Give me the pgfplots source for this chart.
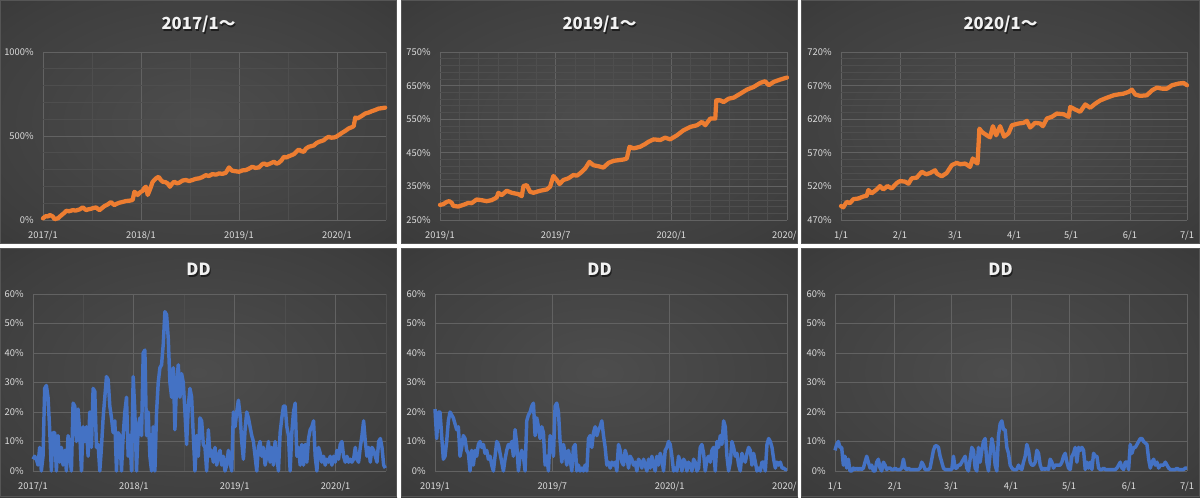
\documentclass[border=0pt]{standalone}
\usepackage{fontspec}
\setmainfont{Noto Sans CJK JP}
\usepackage{pgfplots}
\usepackage{pgfplotstable}
\pgfplotsset{compat=1.18}

\definecolor{orng}{HTML}{ED7D31}
\definecolor{blu}{HTML}{4472C4}
\definecolor{tickc}{HTML}{DDDDDD}
\definecolor{gmaj}{HTML}{626262}
\definecolor{gmin}{HTML}{4E4E4E}
\definecolor{bgA}{HTML}{4D4D4D}
\definecolor{bgB}{HTML}{3E3E3E}
\definecolor{bgC}{HTML}{2C2C2C}
\definecolor{bgD}{HTML}{242424}
\definecolor{pbord}{HTML}{555555}
\pgfdeclareradialshading{panelbg}{\pgfpoint{0bp}{0bp}}{color(0bp)=(bgA); color(30bp)=(bgB); color(55bp)=(bgC); color(71bp)=(bgD)}

\pgfplotstableread{
m v
0 10
0.2 18
0.41 24
0.6 20
0.81 30
1.0 26
1.22 20
1.42 4
1.6 8
1.83 10
2.1 22
2.44 36
2.6 42
2.85 55
3.2 52
3.66 59
4.0 56
4.48 63
4.88 75
5.1 66
5.29 59
5.6 64
5.9 67
6.2 72
6.51 75
6.7 66
6.92 59
7.2 70
7.53 83
7.9 92
8.34 107
8.5 98
8.75 89
9.0 96
9.36 103
9.8 108
10.17 113
10.6 115
10.98 119
11.19 168
11.4 160
11.59 149
11.9 165
12.21 174
12.4 190
12.61 198
12.82 149
13.0 170
13.22 198
13.4 225
13.63 238
13.9 250
14.16 257
14.4 240
14.65 228
15.0 225
15.26 218
15.54 198
15.8 215
16.07 228
16.4 218
16.68 222
17.1 235
17.49 238
17.9 232
18.31 238
18.7 245
19.12 248
19.5 255
19.94 267
20.3 262
20.75 273
21.2 270
21.56 277
22.0 275
22.38 281
22.78 313
23.0 300
23.19 293
23.6 290
24.0 287
24.4 295
24.82 297
25.2 305
25.63 317
26.0 310
26.44 313
26.8 330
27.05 337
27.4 328
27.66 333
28.0 340
28.28 347
28.6 335
28.89 341
29.2 355
29.5 376
29.8 372
30.11 380
30.4 385
30.72 392
31.0 405
31.33 420
31.6 410
31.94 406
32.2 425
32.55 436
32.9 440
33.16 444
33.5 458
33.77 465
34.1 470
34.38 475
34.7 488
34.99 495
35.3 490
35.6 491
35.88 495
36.2 505
36.62 519
37.0 530
37.43 545
37.8 552
38.04 558
38.24 610
38.5 605
38.85 614
39.1 622
39.46 634
39.9 640
40.28 648
40.7 655
41.09 663
41.4 665
41.9 669
}\eqA

\pgfplotstableread{
m v
0 295
0.17 297
0.35 304
0.48 306
0.61 301
0.69 292
0.95 290
1.21 295
1.47 301
1.64 300
1.9 311
2.16 309
2.42 306
2.68 309
2.94 317
3.03 331
3.2 324
3.46 337
3.72 331
4.07 327
4.24 321
4.33 351
4.5 354
4.67 334
4.85 331
5.19 337
5.54 341
5.71 349
5.88 381
6.06 369
6.2 357
6.4 369
6.66 374
6.92 384
7.1 382
7.27 389
7.53 403
7.75 423
7.96 413
8.22 410
8.48 406
8.74 420
9.0 426
9.26 428
9.52 430
9.69 433
9.83 468
10.04 463
10.38 468
10.64 476
10.82 483
11.08 490
11.42 488
11.68 495
11.94 490
12.29 502
12.63 517
12.98 527
13.33 532
13.59 542
13.76 532
14.02 552
14.28 552
14.33 606
14.54 606
14.71 601
14.97 611
15.23 614
15.58 626
15.92 638
16.27 646
16.61 658
16.87 663
17.05 651
17.31 661
17.65 668
18 674
}\eqB

\pgfplotstableread{
d v
0 490.8
1.2 488.8
3.0 497
4.7 495
6.5 501
9.1 502
11.8 505
13.5 506
14.4 514.6
16.1 509.6
18.8 515.5
20.5 520.5
22.3 515.5
24.4 520.5
26.7 517
29.3 525
31.1 528
33.7 527
35.5 524
37.2 532
39.8 533
42.5 541.8
44.8 538
46.9 540
49.5 544
50.4 539
53.0 535
55.6 540
58.3 551.7
60.9 555
62.7 553
65.3 554
67.9 549
69.3 561.6
70.6 556.6
71.8 554
72.8 606
74.1 601
76.7 596
78.4 593
79.9 609.6
81.6 596
83.7 609.6
85.8 594
88.1 599
89.9 611
93.4 613.6
96.0 614.6
97.8 617.5
99.5 607.6
102.1 614.6
104.8 613.6
106.2 609.6
108.3 621
110.9 623.5
113.5 628.4
117.1 627.4
119.7 623.5
120.6 638.3
123.2 634.4
125.8 631
128.5 642
131.1 637
133.7 643
136.4 648
139.9 652
143.4 655.6
146.0 657
148.6 658
151.3 660.6
153.0 664
154.8 656.6
157.4 654.7
160.9 655.6
163.6 663
166.2 667
168.8 665.5
171.5 665.5
174.1 670.5
177.6 673
180.2 674
182 670.5
}\eqC

\pgfplotstableread[row sep=\\]{k v\\
0 4\\1 5\\2 4\\3 2\\4 8\\5 0\\6 5\\7 28\\8 29\\9 25\\10 14\\11 0\\12 13\\13 13\\14 0\\15 12\\16 3\\17 8\\18 2\\19 7\\
20 0\\21 12\\22 5\\23 0\\24 23\\25 22\\26 10\\27 21\\28 13\\29 0\\30 15\\31 10\\32 15\\33 5\\34 20\\35 8\\36 28\\37 27\\38 8\\39 9\\
40 0\\41 8\\42 18\\43 25\\44 32\\45 31\\46 22\\47 18\\48 13\\49 17\\50 0\\51 13\\52 12\\53 0\\54 12\\55 20\\56 25\\57 5\\58 12\\59 0\\
60 32\\61 20\\62 0\\63 15\\64 18\\65 12\\66 40\\67 41\\68 12\\69 20\\70 5\\71 0\\72 15\\73 0\\74 20\\75 30\\76 35\\77 36\\78 43\\79 54\\
80 53\\81 45\\82 30\\83 25\\84 35\\85 14\\86 30\\87 36\\88 25\\89 33\\90 30\\91 20\\92 9\\93 22\\94 28\\95 25\\96 12\\97 0\\98 12\\99 5\\
100 18\\101 17\\102 9\\103 8\\104 0\\105 14\\106 5\\107 7\\108 3\\109 8\\110 2\\111 5\\112 7\\113 2\\114 5\\115 0\\116 2\\117 7\\118 3\\119 0\\
120 20\\121 15\\122 20\\123 24\\124 19\\125 10\\126 4\\127 14\\128 20\\129 18\\130 15\\131 12\\132 10\\133 5\\134 0\\135 8\\136 10\\137 5\\138 8\\139 2\\
140 5\\141 10\\142 3\\143 8\\144 2\\145 10\\146 5\\147 0\\148 13\\149 18\\150 22\\151 22\\152 15\\153 12\\154 0\\155 13\\156 20\\157 23\\158 5\\159 8\\
160 2\\161 9\\162 2\\163 9\\164 3\\165 11\\166 14\\167 15\\168 17\\169 5\\170 0\\171 8\\172 6\\173 3\\174 5\\175 2\\176 4\\177 3\\178 5\\179 2\\
180 5\\181 3\\182 7\\183 4\\184 9\\185 10\\186 5\\187 3\\188 5\\189 3\\190 4\\191 3\\192 4\\193 8\\194 4\\195 3\\196 8\\197 12\\198 17\\199 10\\
200 5\\201 8\\202 3\\203 8\\204 7\\205 5\\206 3\\207 10\\208 11\\209 8\\210 2\\211 1\\
}\ddA

\pgfplotstableread[row sep=\\]{k v\\
0 21\\1 11\\2 20\\3 20\\4 12\\5 4\\6 5\\7 10\\8 17\\9 20\\10 19\\11 18\\12 16\\13 14\\14 15\\15 5\\16 8\\17 12\\18 11\\19 7\\
20 6\\21 0\\22 7\\23 2\\24 7\\25 5\\26 9\\27 10\\28 8\\29 9\\30 6\\31 7\\32 4\\33 5\\34 2\\35 0\\36 5\\37 10\\38 9\\39 6\\
40 3\\41 0\\42 4\\43 7\\44 9\\45 8\\46 10\\47 5\\48 14\\49 9\\50 0\\51 5\\52 7\\53 5\\54 0\\55 17\\56 19\\57 20\\58 22\\59 23\\
60 12\\61 18\\62 15\\63 11\\64 15\\65 13\\66 2\\67 5\\68 0\\69 12\\70 10\\71 5\\72 22\\73 23\\74 20\\75 10\\76 3\\77 9\\78 6\\79 2\\
80 7\\81 4\\82 0\\83 8\\84 9\\85 0\\86 2\\87 0\\88 1\\89 0\\90 2\\91 0\\92 11\\93 12\\94 8\\95 13\\96 15\\97 12\\98 14\\99 15\\
100 17\\101 12\\102 8\\103 2\\104 3\\105 1\\106 3\\107 2\\108 3\\109 0\\110 9\\111 7\\112 3\\113 2\\114 7\\115 5\\116 1\\117 5\\118 4\\119 2\\
120 3\\121 0\\122 4\\123 3\\124 1\\125 4\\126 2\\127 0\\128 4\\129 1\\130 5\\131 2\\132 0\\133 5\\134 2\\135 6\\136 4\\137 0\\138 7\\139 8\\
140 10\\141 9\\142 5\\143 0\\144 1\\145 0\\146 5\\147 3\\148 0\\149 4\\150 3\\151 0\\152 3\\153 2\\154 0\\155 4\\156 3\\157 0\\158 1\\159 8\\
160 9\\161 6\\162 0\\163 4\\164 5\\165 3\\166 7\\167 8\\168 0\\169 10\\170 8\\171 12\\172 9\\173 17\\174 15\\175 5\\176 0\\177 3\\178 10\\179 8\\
180 5\\181 6\\182 2\\183 0\\184 6\\185 4\\186 3\\187 6\\188 8\\189 7\\190 2\\191 6\\192 3\\193 0\\194 1\\195 0\\196 3\\197 3\\198 0\\199 9\\
200 11\\201 10\\202 8\\203 4\\204 1\\205 3\\206 2\\207 3\\208 1\\209 1\\210 0.5\\211 0.5\\
}\ddB

\pgfplotstableread[row sep=\\]{k v\\
0 7\\1 9\\2 10\\3 8\\4 8\\5 2\\6 5\\7 1\\8 4\\9 0\\10 0\\11 1\\12 0.5\\13 1\\14 0.5\\15 1\\16 0.5\\17 1\\18 3\\19 5\\
20 3\\21 1\\22 2\\23 0\\24 0\\25 3\\26 4\\27 1\\28 0\\29 3\\30 2\\31 0.5\\32 1\\33 1\\34 0.5\\35 0.5\\36 1\\37 0.5\\38 0.5\\39 0.5\\
40 1\\41 4\\42 1\\43 0.5\\44 1\\45 0.5\\46 0.5\\47 0.5\\48 0.5\\49 0.5\\50 0.5\\51 1\\52 3\\53 2\\54 0.5\\55 0.5\\56 0.5\\57 1\\58 4\\59 7\\
60 8.5\\61 8.5\\62 8\\63 5\\64 3\\65 1\\66 0.5\\67 0.5\\68 0.5\\69 0.5\\70 0.5\\71 5\\72 1\\73 1\\74 2\\75 2\\76 3\\77 4\\78 5\\79 1\\
80 0\\81 4\\82 8\\83 7\\84 1\\85 0\\86 8\\87 3\\88 7\\89 10\\90 11\\91 3\\92 0\\93 6\\94 11\\95 8\\96 2\\97 0\\98 12\\99 16\\
100 17\\101 14\\102 14\\103 8\\104 6\\105 2\\106 1\\107 0.5\\108 0.5\\109 0.5\\110 2\\111 1\\112 0.5\\113 3\\114 5\\115 9\\116 7\\117 3\\118 2\\119 2\\
120 3\\121 7\\122 6\\123 2\\124 0.5\\125 1\\126 0.5\\127 1\\128 0.5\\129 4\\130 3\\131 1\\132 2\\133 2\\134 2\\135 2\\136 3\\137 5\\138 6\\139 3\\
140 1\\141 0.5\\142 5\\143 6\\144 8\\145 3\\146 8\\147 7\\148 8\\149 7\\150 0.5\\151 3\\152 1\\153 3\\154 0.5\\155 6\\156 5\\157 5\\158 1\\159 0.5\\
160 0.5\\161 1\\162 0.5\\163 0.5\\164 0.5\\165 0.5\\166 0.5\\167 0.5\\168 0.5\\169 1\\170 2\\171 3\\172 1\\173 0.5\\174 3\\175 3\\176 0.5\\177 9\\178 6\\179 8\\
180 8\\181 9\\182 10\\183 11\\184 11\\185 10\\186 9.5\\187 9\\188 4\\189 1\\190 3\\191 4\\192 2\\193 3\\194 1\\195 2\\196 2\\197 2\\198 3\\199 2\\
200 1\\201 0.5\\202 0.5\\203 0.5\\204 0.5\\205 1\\206 0.5\\207 0.5\\208 0.5\\209 0.5\\210 1\\211 1\\
}\ddC

\pgfplotsset{
  panel/.style={
    scale only axis, anchor=south west,
    axis line style={draw=none}, tick style={draw=none},
    grid=both,
    major grid style={draw=gmaj, line width=0.6pt},
    minor grid style={draw=gmin, line width=0.45pt},
    ticklabel style={font=\fontsize{7}{8}\selectfont, text=tickc},
    /pgf/number format/assume math mode=true,
    /pgf/number format/1000 sep={},
    scaled y ticks=false,
    yticklabel={\pgfmathprintnumber{\tick}\%},
    yticklabel style={xshift=-3.5pt},
    xticklabel style={yshift=-4.5pt},
    clip=false, xmin=0,
  },
  eq/.style={draw=orng, line width=3.2pt, line join=round, line cap=round},
  dd/.style={draw=blu, line width=2.6pt, line join=round},
}

\newcommand{\ptitle}[3]{%
  \node[anchor=base, text=black, opacity=0.55, font=\fontsize{12.5}{14}\bfseries] at (#1+1.2,#2-1.2) {#3};
  \node[anchor=base, text=white!95!black, font=\fontsize{12.5}{14}\bfseries] at (#1,#2) {#3};
}

\begin{document}
\begin{tikzpicture}[x=0.75pt, y=0.75pt]
\path[use as bounding box] (0,0) rectangle (1200,497);
\fill[white] (0,0) rectangle (1200,497);
% panel backgrounds
\shade[shading=panelbg] (0,253) rectangle (397,497);
\shade[shading=panelbg] (401,253) rectangle (798,497);
\shade[shading=panelbg] (801,253) rectangle (1200,497);
\shade[shading=panelbg] (0,0) rectangle (397,249);
\shade[shading=panelbg] (401,0) rectangle (798,249);
\shade[shading=panelbg] (801,0) rectangle (1200,249);
\coordinate (A1) at (43,277);
\coordinate (A2) at (440,277);
\coordinate (A3) at (841,277);
\coordinate (B1) at (33,26);
\coordinate (B2) at (435,26);
\coordinate (B3) at (835,26);

% top-left
\begin{axis}[panel, at={(A1)}, width=257.25pt, height=126pt,
  xmax=42, ymin=0, ymax=1000,
  ytick={0,500,1000}, minor y tick num=4,
  xtick={0,12,24,36}, minor xtick={6,18,30,42},
  xticklabels={2017/1,2018/1,2019/1,2020/1}]
\addplot[eq] table[x=m, y=v] {\eqA};
\end{axis}
% top-middle
\begin{axis}[panel, at={(A2)}, width=260.25pt, height=126pt,
  xmax=18, ymin=250, ymax=750,
  ytick={250,350,450,550,650,750}, minor y tick num=4,
  xtick={0,6,12,18}, minor x tick num=5,
  xticklabels={2019/1,2019/7,2020/1,2020/7}]
\addplot[eq] table[x=m, y=v] {\eqB};
\end{axis}
% top-right
\begin{axis}[panel, at={(A3)}, width=259.5pt, height=126pt,
  xmax=182, ymin=470, ymax=720,
  ytick={470,520,570,620,670,720}, minor y tick num=4,
  xtick={0,31,60,91,121,152,182},
  xticklabels={1/1,2/1,3/1,4/1,5/1,6/1,7/1}]
\addplot[eq] table[x=d, y=v] {\eqC};
\end{axis}
% bottom-left
\begin{axis}[panel, at={(B1)}, width=264.75pt, height=132.75pt,
  xmax=211.4, ymin=0, ymax=60,
  ytick={0,10,...,60},
  xtick={0,60.4,120.8,181.2}, minor xtick={30.2,90.6,151,211.4},
  xticklabels={2017/1,2018/1,2019/1,2020/1}]
\addplot[dd] table[x=k, y=v] {\ddA};
\end{axis}
% bottom-middle
\begin{axis}[panel, at={(B2)}, width=264pt, height=132.75pt,
  xmax=211, ymin=0, ymax=60,
  ytick={0,10,...,60},
  xtick={0,70.33,140.67,211}, minor x tick num=5,
  xticklabels={2019/1,2019/7,2020/1,2020/7}]
\addplot[dd] table[x=k, y=v] {\ddB};
\end{axis}
% bottom-right
\begin{axis}[panel, at={(B3)}, width=264pt, height=132.75pt,
  xmax=211, ymin=0, ymax=60,
  ytick={0,10,...,60},
  xtick={0,35.9,69.6,105.5,140.3,176.2,211},
  xticklabels={1/1,2/1,3/1,4/1,5/1,6/1,7/1}]
\addplot[dd] table[x=k, y=v] {\ddC};
\end{axis}

% titles
\ptitle{198.5}{467}{2017/1～}
\ptitle{599.5}{467}{2019/1～}
\ptitle{1000.5}{467}{2020/1～}
\ptitle{198.5}{221}{DD}
\ptitle{599.5}{221}{DD}
\ptitle{1000.5}{221}{DD}

% separators and borders
\fill[white] (397,0) rectangle (401,497);
\fill[white] (798,0) rectangle (801,497);
\fill[white] (0,249) rectangle (1200,253);
\foreach \xa/\xb in {0/397,401/798,801/1200}{
  \draw[pbord, line width=0.6pt] (\xa+0.5,253.5) rectangle (\xb-0.5,496.5);
  \draw[pbord, line width=0.6pt] (\xa+0.5,0.5) rectangle (\xb-0.5,248.5);
}
\end{tikzpicture}
\end{document}
